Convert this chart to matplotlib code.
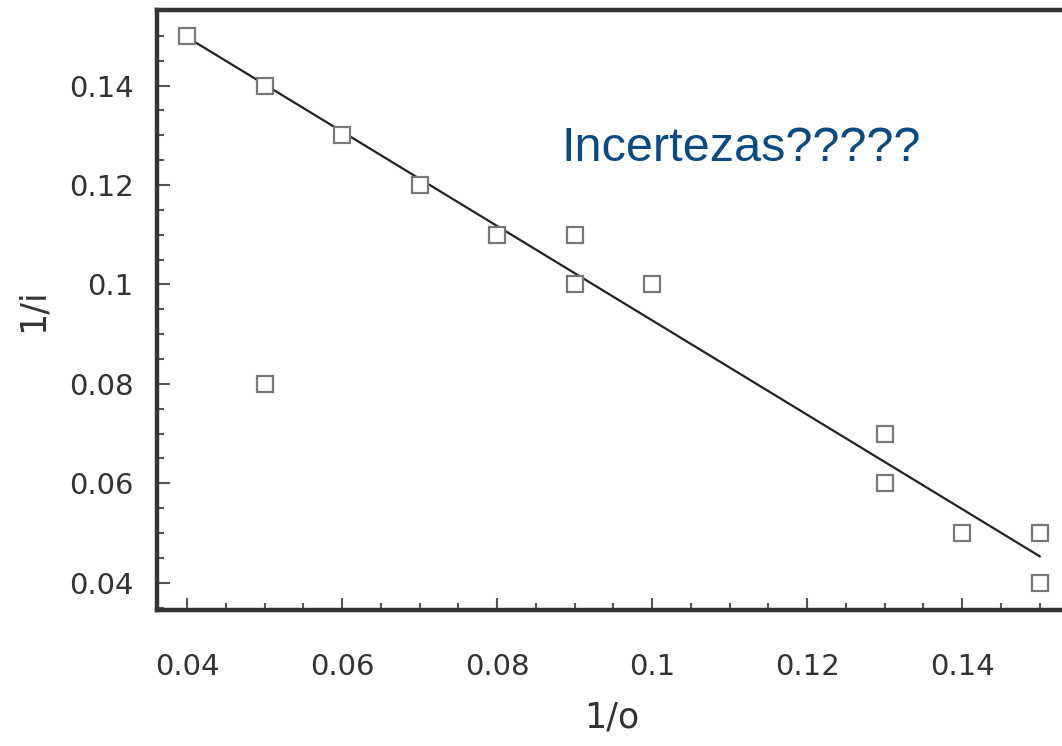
import matplotlib.pyplot as plt
from matplotlib.ticker import MultipleLocator, FixedLocator

# dados
inv_o = [0.04, 0.05, 0.06, 0.07, 0.08, 0.09, 0.09, 0.10, 0.05, 0.13, 0.13, 0.14, 0.15, 0.15]
inv_i = [0.15, 0.14, 0.13, 0.12, 0.11, 0.11, 0.10, 0.10, 0.08, 0.07, 0.06, 0.05, 0.05, 0.04]

# reta ajustada (extremos)
fit_x = [0.04, 0.15]
fit_y = [0.1497, 0.0453]

x_ticks = [0.04, 0.06, 0.08, 0.10, 0.12, 0.14]
x_labels = ["0.04", "0.06", "0.08", "0.1", "0.12", "0.14"]
y_ticks = [0.04, 0.06, 0.08, 0.10, 0.12, 0.14]
y_labels = ["0.04", "0.06", "0.08", "0.1", "0.12", "0.14"]

fig = plt.figure(figsize=(10.62, 7.46), dpi=100)
W, H = 1062, 746
x0, x1 = 0.0361, 0.1535
# eixo vai um pouco além da borda direita (como no original)
left, right = 157, 157 + (x1 - x0) / 0.02 * 155
top, bottom = 10, 610
ax = fig.add_axes([left / W, 1 - bottom / H, (right - left) / W, (bottom - top) / H])

ax.plot(fit_x, fit_y, color="#222222", lw=1.6, zorder=2)
ax.plot(inv_o, inv_i, ls="none", marker="s", ms=12, mfc="white",
        mec="#777777", mew=1.6, zorder=3, clip_on=False)

ax.set_xlim(x0, x1)
ax.set_ylim(0.0345, 0.1552)

ax.xaxis.set_major_locator(FixedLocator(x_ticks))
ax.set_xticklabels(x_labels)
ax.yaxis.set_major_locator(FixedLocator(y_ticks))
ax.set_yticklabels(y_labels)
ax.xaxis.set_minor_locator(MultipleLocator(0.005))
ax.yaxis.set_minor_locator(MultipleLocator(0.005))

ax.tick_params(which="both", direction="in", color="#555555", width=1.5,
               top=False, right=False)
ax.tick_params(which="major", length=9, labelsize=21, labelcolor="#333333")
ax.tick_params(which="minor", length=5)
ax.tick_params(axis="x", pad=31)
ax.tick_params(axis="y", pad=17)

for s in ax.spines.values():
    s.set_linewidth(3.2)
    s.set_color("#333333")

ax.set_xlabel("1/o", fontsize=25, color="#333333", labelpad=14)
ax.set_ylabel("1/i", fontsize=25, color="#333333", labelpad=14)

ax.text(0.0883, 0.1248, "Incertezas?????", fontsize=35, color="#0b4a80",
        family="Liberation Sans", va="baseline", ha="left")

fig.savefig("out.png", dpi=100)
